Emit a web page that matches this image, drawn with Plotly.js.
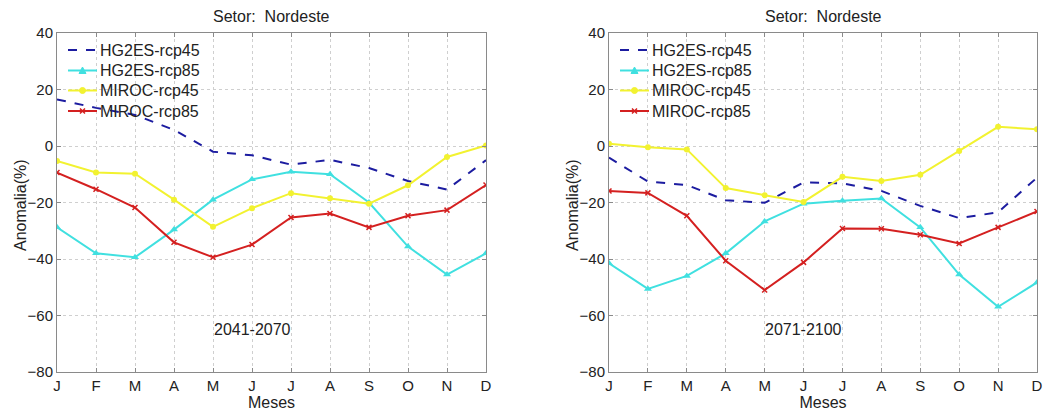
<!DOCTYPE html>
<html>
<head>
<meta charset="utf-8">
<script src="https://cdn.plot.ly/plotly-3.0.1.min.js"></script>
<style>html,body{margin:0;padding:0;background:#fff;}#chart{width:1043px;height:412px;}</style>
</head>
<body>
<div id="chart"></div>
<script>
const months = ["J","F","M","A","M","J","J","A","S","O","N","D"];
const monthIdx = [1,2,3,4,5,6,7,8,9,10,11,12];
const seriesNames = ["HG2ES-rcp45","HG2ES-rcp85","MIROC-rcp45","MIROC-rcp85"];

// 2041-2070
const hg45_a = [16.5, 13.5, 11, 5.7, -2, -3.3, -6.6, -4.9, -7.8, -12.4, -15.4, -5];
const hg85_a = [-28.8, -38, -39.4, -29.6, -19, -11.8, -9.1, -10, -20, -35.6, -45.5, -38];
const mi45_a = [-5.3, -9.4, -9.8, -19, -28.6, -22, -16.7, -18.5, -20.4, -13.9, -3.9, 0.2];
const mi85_a = [-9.4, -15.3, -21.8, -34.1, -39.4, -34.9, -25.3, -23.9, -28.8, -24.7, -22.7, -13.8];

// 2071-2100
const hg45_b = [-4.1, -12.6, -13.8, -19.2, -20.1, -12.9, -13.2, -15.9, -21.2, -25.5, -23.5, -11.2];
const hg85_b = [-41.5, -50.6, -46, -38, -26.7, -20.4, -19.4, -18.6, -28.8, -45.5, -56.9, -48.3];
const mi45_b = [0.8, -0.4, -1.2, -14.9, -17.4, -19.8, -10.9, -12.4, -10.2, -1.8, 6.8, 5.9];
const mi85_b = [-15.9, -16.6, -24.7, -40.6, -51, -41.2, -29.2, -29.3, -31.4, -34.5, -28.8, -23.2];

const panelTitles = ["Setor:  Nordeste", "Setor:  Nordeste"];
const periods = ["2041-2070", "2071-2100"];
const xTitle = "Meses";
const yTitle = "Anomalia(%)";

const colors = ['#1c1ca0', '#40e0e0', '#f2f230', '#d42020'];
const styles = [
  {line:{color:colors[0], width:2, dash:'dash'}, mode:'lines'},
  {line:{color:colors[1], width:2}, mode:'lines+markers', marker:{symbol:'triangle-up', size:7, color:colors[1]}},
  {line:{color:colors[2], width:2}, mode:'lines+markers', marker:{symbol:'circle', size:6, color:colors[2]}},
  {line:{color:colors[3], width:2}, mode:'lines+markers', marker:{symbol:'x-thin', size:5, color:colors[3], line:{color:colors[3], width:1.5}}}
];

const dataA = [hg45_a, hg85_a, mi45_a, mi85_a];
const dataB = [hg45_b, hg85_b, mi45_b, mi85_b];
const traces = [];
dataA.forEach((ys, i) => traces.push(Object.assign({
  type:'scatter', x: monthIdx, y: ys, name: seriesNames[i], xaxis:'x', yaxis:'y', showlegend:false
}, styles[i])));
dataB.forEach((ys, i) => traces.push(Object.assign({
  type:'scatter', x: monthIdx, y: ys, name: seriesNames[i], xaxis:'x2', yaxis:'y2', showlegend:false
}, styles[i])));

const FS = 16, TFS = 15;
const TC = '#222';
const W = 1043, MT = 33, MB = 40, PH = 412 - MT - MB;
const font = {family:'Liberation Sans, Arial, sans-serif', size:FS, color:TC};
function xax(domain, anchor){
  return {domain: domain, anchor: anchor, range:[1,12], tickvals: monthIdx, ticktext: months,
    showgrid:true, gridcolor:'#cfcfcf', griddash:'dot', gridwidth:1,
    showline:true, linecolor:'#8a8a8a', linewidth:1, mirror:'ticks',
    ticks:'inside', ticklen:4, tickcolor:'#8a8a8a', zeroline:false,
    tickfont:{size:TFS, color:TC},
    title:{text:xTitle, font:{size:FS, color:TC}, standoff:0}};
}
function yax(anchor){
  return {domain:[0,1], anchor: anchor, range:[-80,40], dtick:20, tick0:0,
    showgrid:true, gridcolor:'#cfcfcf', griddash:'dot', gridwidth:1,
    showline:true, linecolor:'#8a8a8a', linewidth:1, mirror:'ticks',
    ticks:'inside', ticklen:4, tickcolor:'#8a8a8a', zeroline:false,
    tickfont:{size:TFS, color:TC}};
}

const dA = [57/W, 486/W];
const dB = [609/W, 1037/W];
const px = p => p / W;
const py = p => (412 - MB - p) / PH;

const annotations = [
  {text: panelTitles[0], xref:'paper', yref:'paper', x:(dA[0]+dA[1])/2, y:1, yshift:6, xanchor:'center', yanchor:'bottom', showarrow:false, font:{size:FS, color:TC}},
  {text: panelTitles[1], xref:'paper', yref:'paper', x:(dB[0]+dB[1])/2, y:1, yshift:6, xanchor:'center', yanchor:'bottom', showarrow:false, font:{size:FS, color:TC}},
  {text: periods[0], xref:'x', yref:'y', x:6, y:-65, showarrow:false, font:{size:FS, color:TC}},
  {text: periods[1], xref:'x2', yref:'y2', x:6, y:-65, showarrow:false, font:{size:FS, color:TC}},
  {text: yTitle, xref:'paper', yref:'paper', x:px(20), y:py(205), textangle:-90, xanchor:'center', yanchor:'middle', showarrow:false, font:{size:FS, color:TC}},
  {text: yTitle, xref:'paper', yref:'paper', x:px(572), y:py(205), textangle:-90, xanchor:'center', yanchor:'middle', showarrow:false, font:{size:FS, color:TC}}
];
const shapes = [];
const legendRows = [50, 70.5, 90.5, 111];
[[57, 0], [609, 1]].forEach(([left]) => {
  seriesNames.forEach((nm, i) => {
    const yc = py(legendRows[i]);
    const x0 = left + 11, x1 = left + 40, xm = (x0 + x1) / 2;
    annotations.push({text:nm, xref:'paper', yref:'paper', x:px(left + 41), y:yc, xanchor:'left', yanchor:'middle', showarrow:false, font:{size:FS, color:TC}});
    shapes.push({type:'line', xref:'paper', yref:'paper', x0:px(x0), x1:px(x1), y0:yc, y1:yc,
      line:{color:colors[i], width:2, dash: i === 0 ? 'dash' : 'solid'}});
    if (i === 1) {
      shapes.push({type:'path', xref:'paper', yref:'paper', xsizemode:'pixel', ysizemode:'pixel', xanchor:px(xm), yanchor:yc,
        path:'M-3.5,-3 L3.5,-3 L0,3.5 Z', fillcolor:colors[i], line:{color:colors[i], width:1}});
    } else if (i === 2) {
      shapes.push({type:'circle', xref:'paper', yref:'paper', xsizemode:'pixel', ysizemode:'pixel', xanchor:px(xm), yanchor:yc,
        x0:-3, x1:3, y0:-3, y1:3, fillcolor:colors[i], line:{color:colors[i], width:1}});
    } else if (i === 3) {
      shapes.push({type:'path', xref:'paper', yref:'paper', xsizemode:'pixel', ysizemode:'pixel', xanchor:px(xm), yanchor:yc,
        path:'M-2.5,-2.5 L2.5,2.5 M-2.5,2.5 L2.5,-2.5', line:{color:colors[i], width:1.5}});
    }
  });
});

const layout = {
  width:W, height:412,
  margin:{l:0, r:0, t:MT, b:MB},
  paper_bgcolor:'#fff', plot_bgcolor:'#fff',
  font: font,
  showlegend:false,
  xaxis: xax(dA, 'y'),
  yaxis: yax('x'),
  xaxis2: xax(dB, 'y2'),
  yaxis2: yax('x2'),
  annotations: annotations,
  shapes: shapes
};

Plotly.newPlot('chart', traces, layout, {displayModeBar:false, staticPlot:true});
</script>
</body>
</html>
